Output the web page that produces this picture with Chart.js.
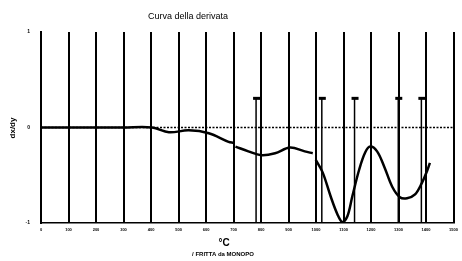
<!DOCTYPE html>
<html>
<head>
<meta charset="utf-8">
<script src="https://cdn.jsdelivr.net/npm/chart.js@4"></script>
<style>
  html, body { margin: 0; padding: 0; background: #fff; }
</style>
</head>
<body>
<canvas id="chart" width="462" height="261"></canvas>
<script>
// temperature (°C) and derivative readings, null = break in the trace
const temps = [0, 100, 200, 300, 404, 465, 537, 610, 682, 700, 703, 707, 754, 801, 851, 905, 959, 988, 995, 999, 1024, 1053, 1078, 1096, 1114, 1132, 1157, 1179, 1197, 1222, 1248, 1277, 1305, 1331, 1360, 1385, 1403, 1414];
const dxdy = [0, 0, 0, 0, 0, -0.05, -0.03, -0.06, -0.15, -0.16, null, -0.2, -0.25, -0.29, -0.27, -0.21, -0.25, -0.27, null, -0.34, -0.47, -0.72, -0.91, -0.99, -0.93, -0.72, -0.44, -0.26, -0.2, -0.25, -0.41, -0.62, -0.73, -0.74, -0.7, -0.58, -0.46, -0.37];

// event markers
const markerTemps = [782, 1021, 1140, 1299, 1383];
const markerTop = 0.3;

const xTicks = [0, 100, 200, 300, 400, 500, 600, 700, 800, 900, 1000, 1100, 1200, 1300, 1400, 1500];
const yTicks = [-1, 0, 1];

const points = temps.map((t, i) => ({ x: t, y: dxdy[i] }));

const markerPlugin = {
    id: 'markers',
    afterDatasetsDraw(chart) {
        const ctx = chart.ctx;
        const x = chart.scales.x, y = chart.scales.y;
        ctx.save();
        ctx.strokeStyle = '#000';
        ctx.fillStyle = '#000';
        ctx.lineWidth = 1.5;
        markerTemps.forEach(t => {
            const px = x.getPixelForValue(t);
            const top = y.getPixelForValue(markerTop);
            ctx.beginPath();
            ctx.moveTo(px, top);
            ctx.lineTo(px, y.getPixelForValue(-1));
            ctx.stroke();
            ctx.fillRect(px - 3, top - 2, 7, 3);
        });
        ctx.restore();
    },
    afterDraw(chart) {
        const ctx = chart.ctx;
        ctx.save();
        ctx.fillStyle = '#000';
        ctx.textAlign = 'center';
        ctx.font = '9px "Liberation Sans", Arial';
        ctx.fillText('Curva della derivata', 188, 19);
        ctx.font = 'bold 10px "Liberation Sans", Arial';
        ctx.fillText('°C', 224, 246);
        ctx.font = 'bold 6px "Liberation Sans", Arial';
        ctx.fillText('/ FRITTA da MONOPO', 223, 256);
        ctx.translate(15, 128);
        ctx.rotate(-Math.PI / 2);
        ctx.font = 'bold 8px "Liberation Sans", Arial';
        ctx.fillText('dx/dy', 0, 0);
        ctx.restore();
    }
};

const zeroLine = {
    id: 'zeroLine',
    beforeDatasetsDraw(chart) {
        // dotted zero line across the plot
        const ctx = chart.ctx, a = chart.chartArea;
        const py = chart.scales.y.getPixelForValue(0);
        ctx.save();
        ctx.strokeStyle = '#000';
        ctx.lineWidth = 1.5;
        ctx.setLineDash([2, 1.5]);
        ctx.beginPath();
        ctx.moveTo(a.left, py);
        ctx.lineTo(a.right, py);
        ctx.stroke();
        ctx.restore();
    }
};

new Chart(document.getElementById('chart'), {
    type: 'line',
    data: {
        datasets: [
            {
                data: points,
                borderColor: '#000',
                borderWidth: 2.5,
                pointRadius: 0,
                spanGaps: false,
                tension: 0.35
            }
        ]
    },
    options: {
        responsive: false,
        animation: false,
        devicePixelRatio: 1,
        layout: { padding: { top: 32, right: 5, left: 0, bottom: 0 } },
        plugins: {
            legend: { display: false },
            tooltip: { enabled: false }
        },
        scales: {
            x: {
                type: 'linear',
                min: 0,
                max: 1500,
                afterBuildTicks: s => { s.ticks = xTicks.map(v => ({ value: v })); },
                afterFit: s => { s.height = 38; },
                border: { display: true, color: '#000', width: 1.5 },
                grid: { color: '#000', lineWidth: 2, drawTicks: false },
                ticks: {
                    color: '#000',
                    padding: 4,
                    maxRotation: 0,
                    autoSkip: false,
                    callback: v => String(v),
                    font: { size: 4, weight: 'bold', family: '"Liberation Sans", Arial' }
                }
            },
            y: {
                min: -1,
                max: 1,
                afterBuildTicks: s => { s.ticks = yTicks.map(v => ({ value: v })); },
                afterFit: s => { s.width = 41; },
                border: { display: true, color: '#000', width: 2 },
                grid: { display: false },
                ticks: {
                    color: '#000',
                    padding: 3,
                    font: { size: 5, weight: 'bold', family: '"Liberation Sans", Arial' }
                }
            }
        }
    },
    plugins: [zeroLine, markerPlugin]
});
</script>
</body>
</html>
